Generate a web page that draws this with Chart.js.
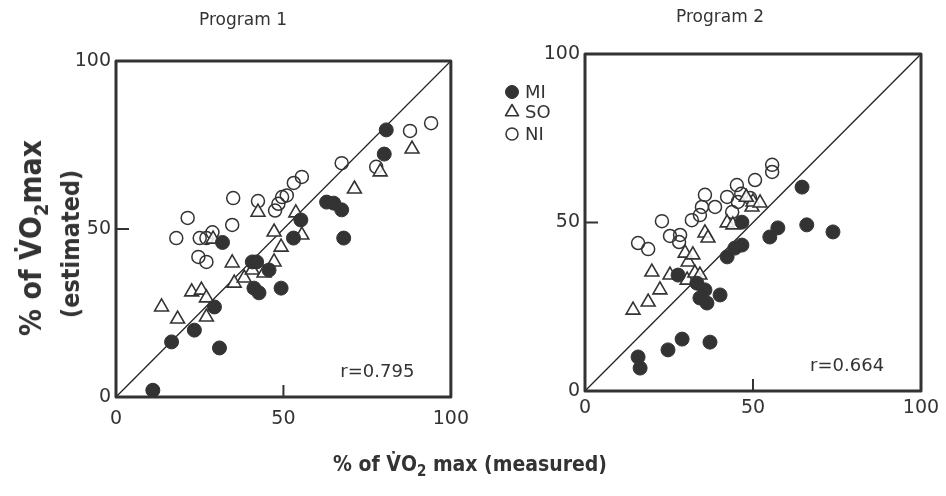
<!DOCTYPE html>
<html><head><meta charset="utf-8">
<script src="https://cdn.jsdelivr.net/npm/chart.js@4.4.1/dist/chart.umd.min.js"></script>
<style>
html,body{margin:0;padding:0;background:#fff}
body{width:946px;height:496px;overflow:hidden;position:relative;font-family:"DejaVu Sans",sans-serif;color:#333}
canvas{position:absolute;top:0}
#c1{left:0}
#c2{left:470px}
.t{position:absolute;white-space:nowrap}
.ptitle{font-size:17px;transform:translate(-50%,-50%)}
.big{font-weight:bold;font-family:"DejaVu Sans Condensed","DejaVu Sans",sans-serif;font-stretch:condensed}
</style></head><body>
<canvas id="c1" width="480" height="496"></canvas>
<canvas id="c2" width="476" height="496"></canvas>
<div class="t ptitle" id="pt1" style="left:243px;top:19px"></div>
<div class="t ptitle" id="pt2" style="left:720px;top:16px"></div>
<div class="t big" id="ytitle" style="left:51px;top:240px;transform:translate(-50%,-50%) rotate(-90deg);text-align:center;line-height:30px">
  <div style="font-size:30px;position:relative;left:2px">% of V&#775;O<sub style="font-size:20px">2</sub>max</div>
  <div style="font-size:25px;position:relative;left:-4px">(estimated)</div>
</div>
<div class="t big" id="xtitle" style="left:470px;top:466px;transform:translate(-50%,-50%);font-size:21px">% of V&#775;O<sub style="font-size:15px">2</sub> max (measured)</div>
<script>
// ---- data ----
const tickValues = [0, 50, 100];
const panelTitles = ['Program 1', 'Program 2'];
const rLabels = ['r=0.795', 'r=0.664'];
const legendLabels = ['MI', 'SO', 'NI'];
const identityLine = [0, 100];

// Program 1  [measured, estimated]
const p1MI = [[11,2],[16.6,16.4],[23.4,19.9],[30.9,14.6],[29.4,26.8],[31.8,46],[40.7,40.2],[42,40.2],[45.7,37.8],[41.2,32.4],[42.7,31],[49.3,32.4],[53,47.3],[55.2,52.7],[62.9,58],[65,57.7],[67.4,55.7],[68,47.3],[80.1,72.3],[80.7,79.5]];
const p1SO = [[13.6,26.8],[18.4,23.2],[22.6,31.3],[25.5,31.8],[27,29.5],[27,23.8],[29,47],[34.7,39.9],[35.3,33.9],[38.3,35.4],[40.7,37.8],[44.2,36.9],[47.2,40.2],[49.3,44.6],[47.2,49.1],[42.4,55],[53.7,54.8],[55.5,48.2],[71.2,61.9],[78.9,67],[88.4,73.8]];
const p1NI = [[18,47.3],[21.4,53.3],[25,47.3],[27,47.3],[28.8,49],[24.6,41.7],[27,40.2],[34.7,51.2],[35,59.2],[42.4,58.3],[47.5,55.5],[48.5,57.5],[49.6,59.5],[51,60],[53.1,63.7],[55.5,65.5],[67.4,69.6],[77.7,68.5],[87.8,79.2],[94.1,81.5]];

// Program 2
const p2MI = [[15.8,10.1],[16.4,6.8],[24.7,12.2],[28.9,15.4],[37.2,14.5],[27.7,34.4],[33.3,32],[35.7,30],[34.2,27.6],[36.3,26.1],[40.2,28.5],[42.3,39.8],[44.6,42.4],[46.7,43.3],[46.7,50.1],[55,45.7],[57.4,48.4],[66,49.3],[73.8,47.2],[64.6,60.5]];
const p2SO = [[14.3,24],[18.8,26.4],[22.3,30],[19.9,35.3],[25.3,34.4],[30.4,32.9],[32.7,35],[34.2,34.4],[30.7,38.3],[29.8,40.9],[32.1,40.4],[35.7,46.9],[36.6,45.4],[42.3,49.9],[44,49.3],[49.7,54.6],[50,56.1],[52.1,55.8],[48,57.5]];
const p2NI = [[15.8,43.9],[18.8,42.1],[22.9,50.4],[25.3,46],[28.3,46.3],[28,44.2],[31.8,50.7],[34.2,52.2],[34.8,54.6],[38.7,54.6],[35.7,58.2],[42.3,57.6],[43.8,53.1],[45.5,56.1],[49.1,57.3],[45.2,61.1],[50.6,62.6],[55.7,67.1],[55.7,65],[46.5,58.5]];

// ---- styles ----
const INK = '#333';
const styles = {
  MI: {pointStyle:'circle', pointRadius:7, backgroundColor:INK, borderColor:INK, borderWidth:1},
  SO: {pointStyle:'triangle', pointRadius:8, backgroundColor:'rgba(255,255,255,0.85)', borderColor:INK, borderWidth:1.6},
  NI: {pointStyle:'circle', pointRadius:6.5, backgroundColor:'rgba(255,255,255,0)', borderColor:INK, borderWidth:1.5}
};

document.getElementById('pt1').textContent = panelTitles[0];
document.getElementById('pt2').textContent = panelTitles[1];

const toPts = arr => arr.map(p => ({x:p[0], y:p[1]}));

function framePlugin(rText, legend) {
  return {
    id: 'frame',
    afterDatasetsDraw(chart) {
      const {ctx, chartArea: a, scales:{x, y}} = chart;
      ctx.save();
      ctx.strokeStyle = INK;
      ctx.lineWidth = 3;
      ctx.lineJoin = 'round';
      ctx.strokeRect(a.left, a.top, a.right - a.left, a.bottom - a.top);
      // inward ticks at mid value
      const mid = tickValues[1];
      ctx.lineWidth = 2;
      ctx.beginPath();
      const px = x.getPixelForValue(mid), py = y.getPixelForValue(mid);
      ctx.moveTo(px, a.bottom); ctx.lineTo(px, a.bottom - 12);
      ctx.moveTo(a.left, py); ctx.lineTo(a.left + 13, py);
      ctx.stroke();
      // r label
      ctx.fillStyle = INK;
      ctx.font = '18px "DejaVu Sans"';
      ctx.textBaseline = 'middle';
      ctx.textAlign = 'left';
      ctx.fillText(rText, x.getPixelForValue(67), y.getPixelForValue(7.2));
      if (legend) {
        const rows = [92, 112, 134];
        legendLabels.forEach((lab, i) => {
          const s = styles[lab];
          ctx.fillStyle = s.backgroundColor;
          ctx.strokeStyle = s.borderColor;
          ctx.lineWidth = s.borderWidth;
          Chart.helpers.drawPoint(ctx, {pointStyle:s.pointStyle, radius:s.pointRadius - 0.5, borderWidth:s.borderWidth, rotation:0}, 42, rows[i]);
          ctx.fillStyle = INK;
          ctx.font = '18px "DejaVu Sans"';
          ctx.fillText(lab, 55, rows[i] + 1);
        });
      }
      ctx.restore();
    }
  };
}

function makeChart(id, mi, so, ni, rText, geo, legend) {
  return new Chart(document.getElementById(id), {
    type: 'scatter',
    data: {
      datasets: [
        Object.assign({label:'MI', data: toPts(mi)}, styles.MI),
        Object.assign({label:'SO', data: toPts(so)}, styles.SO),
        Object.assign({label:'NI', data: toPts(ni)}, styles.NI),
        {type:'line', label:'identity', data: identityLine.map(v => ({x:v, y:v})), borderColor:'#222', borderWidth:1.3, pointRadius:0, fill:false, order:10}
      ]
    },
    options: {
      responsive: false,
      animation: false,
      events: [],
      layout: {padding: geo.padding},
      plugins: {legend:{display:false}, tooltip:{enabled:false}, title:{display:false}},
      scales: {
        x: {
          type:'linear', min:0, max:100,
          afterBuildTicks: s => { s.ticks = tickValues.map(v => ({value:v})); },
          afterFit: s => { s.height = 30; },
          grid: {display:false, drawTicks:false},
          border: {display:false},
          ticks: {padding: geo.xPad, color:INK, font:{family:'DejaVu Sans', size:19}, maxRotation:0}
        },
        y: {
          type:'linear', min:0, max:100,
          afterBuildTicks: s => { s.ticks = tickValues.map(v => ({value:v})); },
          afterFit: s => { s.width = 50; },
          grid: {display:false, drawTicks:false},
          border: {display:false},
          ticks: {padding: 5, color:INK, font:{family:'DejaVu Sans', size:19}}
        }
      }
    },
    plugins: [framePlugin(rText, legend)]
  });
}

makeChart('c1', p1MI, p1SO, p1NI, rLabels[0], {padding:{left:66, right:27, top:61, bottom:69}, xPad:11}, false);
makeChart('c2', p2MI, p2SO, p2NI, rLabels[1], {padding:{left:65, right:25, top:54, bottom:75}, xPad:6}, true);
</script>
</body></html>
